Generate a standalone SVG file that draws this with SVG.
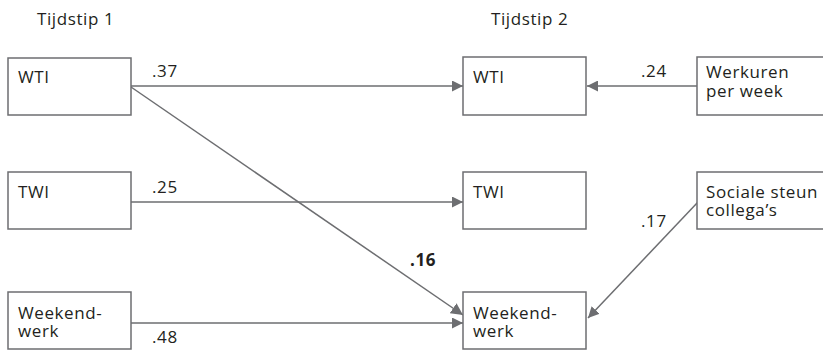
<svg xmlns="http://www.w3.org/2000/svg" width="823" height="350" viewBox="0 0 823 350">
<style>
text{font-family:"Open Sans","Noto Sans",sans-serif;font-size:17px;letter-spacing:0.6px;fill:#231f20}
.box{fill:#fff;stroke:#6d6e71;stroke-width:1.5}
.c{stroke:#6d6e71;fill:none;stroke-width:1.5}
</style>
<defs>
<marker id="ah" markerWidth="11" markerHeight="11" refX="11" refY="5.5" orient="auto" markerUnits="userSpaceOnUse" viewBox="0 0 11 11">
<path d="M0,0 L11,5.5 L0,11 z" fill="#6d6e71"/>
</marker>
<marker id="ah2" markerWidth="12" markerHeight="12" refX="12" refY="6" orient="auto" markerUnits="userSpaceOnUse" viewBox="0 0 12 12">
<path d="M0,0 L12,6 L0,12 z" fill="#6d6e71"/>
</marker>
</defs>
<text x="37" y="25">Tijdstip 1</text>
<text x="491" y="25">Tijdstip 2</text>
<g id="connectors">
<line class="c" x1="131" y1="86" x2="463" y2="86" marker-end="url(#ah)"/>
<line class="c" x1="131" y1="202" x2="463" y2="202" marker-end="url(#ah)"/>
<line class="c" x1="131" y1="323" x2="463" y2="323" marker-end="url(#ah)"/>
<line class="c" x1="131" y1="87" x2="463" y2="315" stroke-width="2.5" marker-end="url(#ah2)"/>
<line class="c" x1="697" y1="86" x2="587" y2="86" marker-end="url(#ah)"/>
<line class="c" x1="698" y1="202" x2="588" y2="318" stroke-width="1" marker-end="url(#ah)"/>
<text x="152" y="77">.37</text>
<text x="641" y="77">.24</text>
<text x="152" y="193">.25</text>
<text x="641" y="227">.17</text>
<text x="410" y="266" font-weight="bold">.16</text>
<text x="152" y="343">.48</text>
</g>
<g id="n1"><rect class="box" x="8" y="58" width="123" height="57"/><text x="18" y="83">WTI</text></g>
<g id="n2"><rect class="box" x="8" y="172" width="123" height="57"/><text x="18" y="198">TWI</text></g>
<g id="n3"><rect class="box" x="8" y="292" width="123" height="57"/><text x="18" y="319">Weekend-</text><text x="18" y="337">werk</text></g>
<g id="n4"><rect class="box" x="463" y="57" width="123" height="58"/><text x="473" y="83">WTI</text></g>
<g id="n5"><rect class="box" x="463" y="172" width="123" height="57"/><text x="473" y="198">TWI</text></g>
<g id="n6"><rect class="box" x="463" y="292" width="123" height="57"/><text x="473" y="319">Weekend-</text><text x="473" y="337">werk</text></g>
<g id="n7"><rect class="box" x="697" y="57" width="140" height="58"/><text x="706" y="78">Werkuren</text><text x="706" y="97">per week</text></g>
<g id="n8"><rect class="box" x="697" y="172" width="140" height="57"/><text x="706" y="198">Sociale steun</text><text x="706" y="216">collega’s</text></g>
</svg>
